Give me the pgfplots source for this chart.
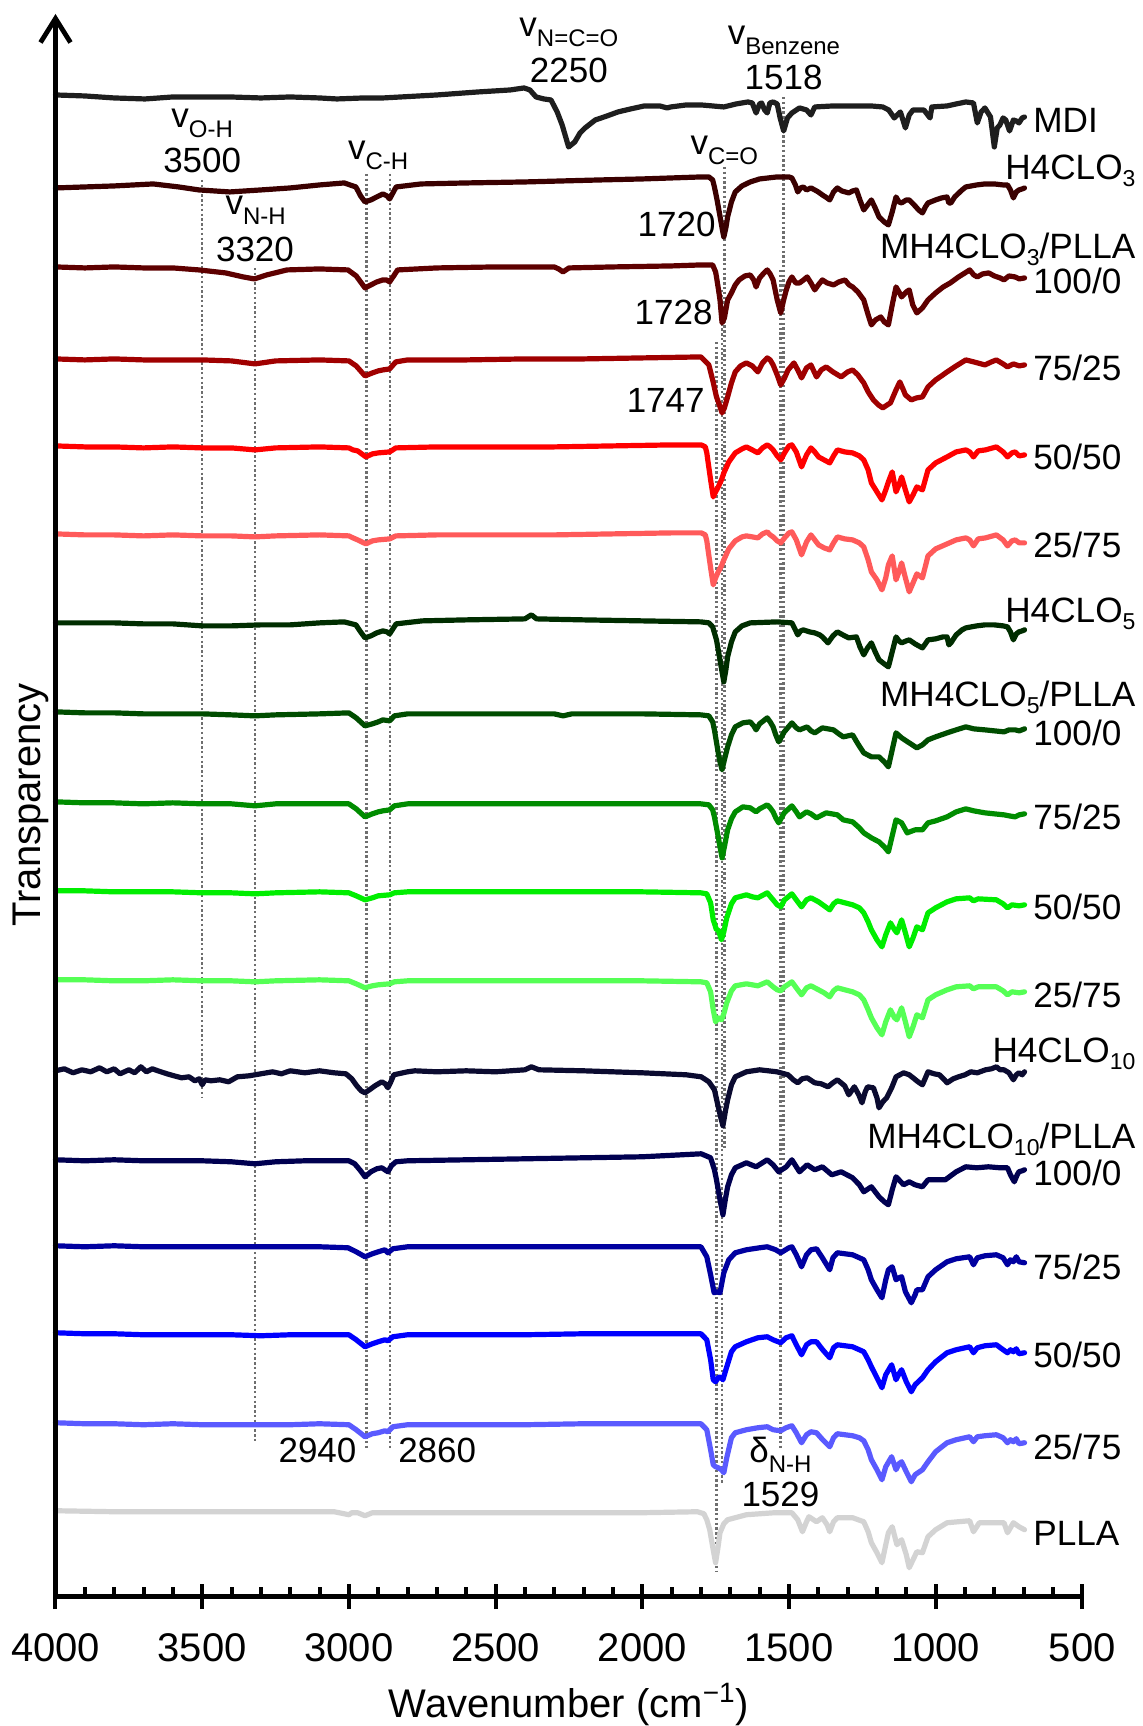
\documentclass[border=0pt]{standalone}
\usepackage{fontspec}
\setmainfont{Liberation Sans}
\usepackage{pgfplots}
\pgfplotsset{compat=1.18}
\usetikzlibrary{arrows.meta}
\definecolor{cMDI}{HTML}{1E1E1E}
\definecolor{cHa}{HTML}{3A0000}
\definecolor{cHaA}{HTML}{5E0000}
\definecolor{cHaB}{HTML}{A00000}
\definecolor{cHaC}{HTML}{FF0000}
\definecolor{cHaD}{HTML}{FF5A5A}
\definecolor{cHb}{HTML}{002D00}
\definecolor{cHbA}{HTML}{004D00}
\definecolor{cHbB}{HTML}{008C00}
\definecolor{cHbC}{HTML}{00EE00}
\definecolor{cHbD}{HTML}{55FF55}
\definecolor{cHc}{HTML}{0B0B30}
\definecolor{cHcA}{HTML}{000050}
\definecolor{cHcB}{HTML}{0000A0}
\definecolor{cHcC}{HTML}{0000FF}
\definecolor{cHcD}{HTML}{5A5AFF}
\definecolor{cPLLA}{HTML}{D3D3D3}
\definecolor{guidegray}{RGB}{110,110,110}
\newcommand{\lf}{\fontsize{17.6}{20}\selectfont}
\newcommand{\af}{\fontsize{17.5}{20}\selectfont}
\newcommand{\lsub}[1]{\raisebox{-3.5pt}{\fontsize{11.5}{12}\selectfont #1}}
\newcommand{\asub}[1]{\raisebox{-5pt}{\fontsize{12}{12}\selectfont #1}}
\begin{document}
\begin{tikzpicture}
\begin{axis}[
  scale only axis, width=513.5pt, height=790.25pt,
  x dir=reverse, xmin=500, xmax=4000, ymin=-1597, ymax=-16.5,
  axis x line=bottom, axis y line=none,
  x axis line style={-, line width=2.4pt},
  xtick={500,1000,1500,2000,2500,3000,3500,4000},
  minor x tick num=4,
  tick align=inside,
  major tick length=12.5pt, minor tick length=5pt,
  every tick/.style={black, line width=2pt},
  every major tick/.append style={yshift=-6.25pt},
  xticklabel style={font=\fontsize{20}{24}\selectfont, inner sep=0pt},
  xticklabel shift=18.4pt,
  /pgf/number format/1000 sep={},
  /pgf/number format/assume math mode=true,
  clip=false,
  spec/.style={line width=2.6pt, line join=round, line cap=round, mark=none},
  guide/.style={guidegray, line width=1.2pt, dash pattern=on 1.2pt off 1.2pt, mark=none},
]
\path (axis cs:4189.2,0) rectangle (axis cs:293.5,-1726);
% guide lines
\addplot[guide] coordinates {(3500,-180) (3500,-1097)};
\addplot[guide] coordinates {(3320,-268) (3320,-1443)};
\addplot[guide] coordinates {(2940,-174) (2940,-1450)};
\addplot[guide] coordinates {(2860,-174) (2860,-1450)};
\addplot[guide] coordinates {(1720,-167) (1720,-1150)};
\addplot[guide] coordinates {(1728,-290) (1728,-1485)};
\addplot[guide] coordinates {(1747,-342) (1747,-1572)};
\addplot[guide] coordinates {(1518,-97) (1518,-1160)};
\addplot[guide] coordinates {(1529,-270) (1529,-1450)};
% MDI
\addplot[spec, cMDI] coordinates {(4000,-95)(3900,-96)(3800,-98)(3695,-99)(3600,-97)(3500,-97)(3405,-97)(3300,-98)(3200,-97)(3100,-98)(3041,-99)(2950,-98)(2884,-98)(2700,-95)(2560,-92)(2450,-90)(2403,-88)(2383,-90)(2362,-97)(2335,-99)(2311,-100)(2290,-112)(2273,-125)(2251,-147)(2230,-142)(2212,-133)(2195,-128)(2160,-120)(2120,-116)(2083,-112)(2040,-109)(1993,-106)(1940,-106)(1915,-108)(1903,-107)(1850,-105)(1799,-105)(1760,-106)(1722,-107)(1680,-104)(1640,-102)(1625,-103)(1612,-113)(1600,-104)(1593,-103)(1583,-110)(1574,-113)(1565,-103)(1554,-102)(1540,-104)(1530,-118)(1518,-131)(1505,-118)(1490,-113)(1464,-108)(1440,-110)(1425,-115)(1412,-107)(1350,-106)(1283,-106)(1220,-106)(1180,-107)(1160,-110)(1141,-118)(1120,-112)(1103,-128)(1090,-115)(1077,-110)(1040,-110)(1019,-118)(1013,-107)(961,-106)(930,-104)(897,-102)(871,-103)(858,-123)(845,-112)(832,-108)(813,-117)(800,-147)(790,-128)(781,-125)(770,-118)(761,-120)(748,-131)(735,-120)(725,-121)(716,-123)(705,-118)(697,-117)};
% H4CLO3
\addplot[spec, cHa] coordinates {(4000,-188)(3900,-187)(3800,-186)(3667,-184)(3580,-187)(3511,-190)(3406,-192)(3300,-190)(3200,-188)(3100,-185)(3016,-183)(2976,-187)(2960,-196)(2945,-202)(2925,-200)(2905,-197)(2884,-194)(2870,-196)(2861,-199)(2850,-193)(2839,-187)(2754,-184)(2600,-183)(2400,-182)(2144,-180)(2000,-179)(1800,-177)(1773,-177)(1760,-180)(1754,-187)(1745,-200)(1737,-213)(1728,-228)(1722,-237)(1715,-228)(1709,-217)(1696,-202)(1683,-192)(1660,-186)(1632,-182)(1600,-179)(1541,-177)(1500,-177)(1490,-178)(1478,-185)(1470,-192)(1460,-188)(1451,-187)(1440,-190)(1425,-188)(1412,-190)(1400,-192)(1386,-195)(1370,-198)(1361,-200)(1348,-192)(1335,-188)(1320,-191)(1296,-193)(1283,-191)(1270,-190)(1258,-200)(1245,-210)(1232,-205)(1219,-200)(1206,-208)(1193,-217)(1175,-222)(1161,-225)(1148,-212)(1135,-197)(1125,-202)(1116,-203)(1100,-200)(1090,-200)(1070,-206)(1058,-210)(1045,-213)(1035,-207)(1026,-203)(1000,-200)(980,-198)(961,-197)(955,-203)(948,-203)(935,-197)(910,-190)(897,-187)(860,-185)(832,-184)(800,-184)(770,-185)(755,-185)(745,-190)(735,-198)(725,-192)(716,-190)(705,-189)(697,-188)};
% MH4CLO3 100/0
\addplot[spec, cHaA] coordinates {(4000,-267)(3900,-268)(3800,-267)(3700,-268)(3600,-268)(3511,-270)(3420,-273)(3360,-277)(3322,-279)(3280,-275)(3211,-270)(3100,-269)(3003,-270)(2975,-276)(2945,-288)(2925,-285)(2905,-282)(2884,-280)(2872,-280)(2861,-282)(2845,-275)(2834,-270)(2700,-268)(2500,-267)(2300,-267)(2285,-269)(2270,-272)(2250,-268)(2100,-267)(1900,-266)(1800,-265)(1760,-265)(1750,-272)(1747,-277)(1740,-290)(1735,-300)(1728,-323)(1720,-318)(1709,-300)(1696,-293)(1683,-285)(1670,-280)(1650,-276)(1632,-275)(1620,-280)(1612,-287)(1600,-278)(1585,-273)(1574,-270)(1564,-274)(1554,-280)(1540,-300)(1528,-313)(1518,-300)(1509,-290)(1500,-282)(1490,-277)(1477,-283)(1464,-283)(1450,-280)(1438,-277)(1425,-283)(1412,-290)(1400,-285)(1386,-280)(1370,-283)(1348,-285)(1330,-282)(1309,-280)(1295,-285)(1283,-287)(1265,-292)(1245,-300)(1230,-315)(1219,-325)(1205,-320)(1187,-317)(1175,-322)(1161,-325)(1148,-305)(1135,-287)(1125,-292)(1116,-297)(1100,-292)(1090,-290)(1078,-305)(1064,-313)(1045,-308)(1026,-300)(1000,-293)(974,-287)(950,-283)(922,-277)(900,-273)(884,-270)(870,-275)(858,-277)(840,-274)(819,-273)(800,-276)(780,-278)(767,-280)(750,-276)(729,-277)(715,-279)(697,-278)};
% MH4CLO3 75/25
\addplot[spec, cHaB] coordinates {(4000,-359)(3900,-360)(3800,-359)(3700,-360)(3600,-360)(3500,-360)(3400,-361)(3320,-364)(3250,-361)(3100,-360)(3000,-361)(2975,-366)(2945,-376)(2920,-373)(2900,-371)(2884,-370)(2861,-369)(2840,-362)(2800,-360)(2600,-360)(2400,-359)(2200,-359)(2000,-358)(1800,-357)(1773,-365)(1760,-380)(1747,-397)(1737,-405)(1728,-413)(1720,-408)(1709,-397)(1696,-383)(1683,-372)(1665,-366)(1645,-363)(1625,-366)(1606,-372)(1590,-363)(1574,-358)(1564,-360)(1554,-365)(1540,-375)(1528,-385)(1515,-378)(1503,-370)(1483,-363)(1470,-370)(1457,-378)(1440,-368)(1425,-365)(1406,-377)(1390,-370)(1373,-367)(1350,-372)(1322,-377)(1300,-372)(1283,-370)(1265,-375)(1245,-383)(1230,-392)(1212,-400)(1195,-405)(1180,-408)(1165,-405)(1154,-403)(1135,-390)(1122,-382)(1110,-390)(1103,-395)(1083,-400)(1065,-398)(1045,-397)(1026,-387)(1000,-380)(980,-376)(961,-372)(930,-366)(897,-360)(870,-362)(832,-365)(810,-362)(793,-360)(770,-364)(755,-367)(735,-364)(715,-366)(697,-365)};
% MH4CLO3 50/50
\addplot[spec, cHaC] coordinates {(4000,-446)(3900,-447)(3800,-447)(3700,-448)(3600,-447)(3500,-448)(3400,-448)(3320,-450)(3250,-448)(3100,-447)(3000,-448)(2986,-450)(2970,-451)(2942,-457)(2920,-454)(2900,-453)(2861,-452)(2840,-448)(2700,-447)(2500,-447)(2300,-447)(2100,-446)(1900,-445)(1799,-445)(1785,-447)(1780,-453)(1767,-480)(1758,-497)(1750,-492)(1741,-487)(1730,-480)(1722,-473)(1705,-462)(1683,-453)(1660,-449)(1645,-447)(1625,-450)(1606,-453)(1590,-448)(1574,-445)(1564,-447)(1554,-450)(1540,-456)(1528,-460)(1515,-453)(1500,-446)(1490,-445)(1475,-452)(1457,-467)(1440,-455)(1425,-448)(1412,-452)(1399,-457)(1380,-460)(1361,-463)(1348,-456)(1335,-450)(1310,-452)(1283,-453)(1260,-456)(1245,-460)(1230,-470)(1219,-483)(1200,-492)(1183,-500)(1170,-490)(1161,-482)(1148,-472)(1135,-492)(1125,-485)(1116,-477)(1103,-490)(1090,-502)(1077,-495)(1064,-487)(1045,-490)(1026,-470)(1000,-463)(961,-457)(930,-452)(897,-450)(884,-452)(871,-457)(855,-451)(830,-450)(793,-447)(770,-452)(755,-457)(740,-453)(729,-452)(715,-456)(697,-455)};
% MH4CLO3 25/75
\addplot[spec, cHaD] coordinates {(4000,-534)(3900,-535)(3800,-535)(3700,-536)(3600,-535)(3500,-536)(3400,-536)(3320,-537)(3250,-536)(3100,-535)(3000,-536)(2986,-538)(2970,-540)(2942,-544)(2920,-541)(2900,-540)(2861,-539)(2840,-536)(2700,-535)(2500,-535)(2300,-535)(2100,-534)(1900,-533)(1799,-533)(1785,-535)(1780,-541)(1767,-568)(1758,-585)(1750,-578)(1741,-572)(1730,-566)(1722,-560)(1705,-549)(1683,-541)(1660,-537)(1645,-536)(1625,-537)(1606,-538)(1590,-534)(1574,-532)(1564,-535)(1554,-537)(1540,-541)(1528,-543)(1515,-538)(1500,-533)(1490,-532)(1475,-540)(1457,-555)(1440,-542)(1425,-535)(1412,-540)(1399,-545)(1380,-548)(1361,-550)(1348,-543)(1335,-537)(1310,-539)(1283,-540)(1260,-543)(1245,-547)(1230,-560)(1219,-572)(1200,-580)(1183,-590)(1170,-578)(1161,-565)(1148,-556)(1135,-580)(1125,-572)(1116,-563)(1103,-578)(1090,-592)(1077,-583)(1064,-574)(1045,-578)(1026,-556)(1000,-549)(961,-544)(930,-540)(897,-538)(884,-540)(871,-546)(855,-539)(830,-538)(793,-535)(770,-540)(755,-546)(740,-541)(729,-540)(715,-543)(697,-543)};
% H4CLO5
\addplot[spec, cHb] coordinates {(4000,-623)(3900,-623)(3800,-623)(3700,-624)(3600,-624)(3500,-626)(3400,-626)(3300,-625)(3200,-625)(3100,-623)(3016,-622)(2976,-625)(2960,-632)(2945,-638)(2925,-636)(2905,-633)(2884,-631)(2870,-632)(2861,-634)(2850,-629)(2839,-624)(2750,-621)(2600,-620)(2400,-619)(2378,-615)(2360,-619)(2200,-620)(2000,-621)(1800,-622)(1773,-623)(1760,-627)(1747,-640)(1735,-660)(1728,-672)(1722,-682)(1715,-670)(1709,-657)(1696,-642)(1683,-632)(1660,-626)(1632,-623)(1540,-622)(1490,-623)(1478,-630)(1470,-635)(1460,-631)(1451,-630)(1430,-632)(1412,-633)(1395,-635)(1386,-637)(1367,-643)(1350,-636)(1335,-632)(1310,-636)(1296,-638)(1270,-637)(1258,-647)(1245,-655)(1232,-648)(1219,-643)(1206,-652)(1193,-660)(1175,-664)(1161,-667)(1148,-652)(1135,-637)(1125,-641)(1116,-643)(1100,-641)(1090,-640)(1070,-644)(1058,-646)(1045,-648)(1035,-644)(1026,-640)(1000,-639)(975,-637)(961,-637)(955,-645)(948,-643)(930,-635)(910,-630)(897,-628)(860,-626)(832,-625)(800,-625)(770,-626)(755,-627)(745,-632)(735,-640)(725,-634)(716,-632)(705,-631)(697,-630)};
% MH4CLO5 100/0
\addplot[spec, cHbA] coordinates {(4000,-712)(3900,-713)(3800,-713)(3700,-714)(3600,-714)(3500,-714)(3400,-715)(3320,-716)(3250,-715)(3100,-714)(3000,-713)(2975,-718)(2945,-726)(2920,-724)(2900,-722)(2884,-720)(2861,-721)(2845,-716)(2800,-714)(2600,-714)(2300,-714)(2270,-716)(2240,-714)(2000,-714)(1800,-715)(1773,-716)(1760,-722)(1754,-730)(1741,-753)(1735,-762)(1728,-770)(1720,-760)(1709,-747)(1696,-735)(1683,-727)(1657,-723)(1632,-722)(1620,-726)(1612,-730)(1600,-724)(1574,-718)(1564,-722)(1554,-727)(1545,-735)(1535,-742)(1516,-732)(1490,-723)(1475,-728)(1464,-730)(1438,-727)(1425,-731)(1412,-733)(1386,-728)(1348,-730)(1330,-734)(1315,-737)(1283,-735)(1265,-744)(1245,-753)(1219,-757)(1193,-757)(1175,-762)(1161,-767)(1148,-750)(1135,-733)(1116,-738)(1090,-743)(1064,-748)(1045,-745)(1026,-740)(1000,-737)(961,-733)(930,-730)(897,-727)(870,-729)(832,-730)(800,-731)(767,-732)(750,-730)(729,-730)(715,-731)(697,-729)};
% MH4CLO5 75/25
\addplot[spec, cHbB] coordinates {(4000,-802)(3900,-803)(3800,-803)(3700,-804)(3600,-803)(3500,-804)(3400,-804)(3320,-806)(3250,-804)(3100,-804)(3000,-804)(2975,-809)(2945,-817)(2920,-814)(2900,-812)(2884,-811)(2861,-810)(2845,-806)(2800,-804)(2600,-804)(2300,-804)(2000,-804)(1800,-804)(1773,-805)(1760,-810)(1754,-817)(1741,-837)(1735,-847)(1728,-858)(1720,-847)(1709,-830)(1696,-819)(1683,-812)(1657,-807)(1632,-808)(1612,-812)(1600,-809)(1574,-805)(1564,-808)(1554,-812)(1545,-818)(1535,-823)(1516,-813)(1490,-806)(1475,-812)(1464,-817)(1440,-812)(1425,-814)(1406,-818)(1373,-813)(1335,-815)(1315,-820)(1283,-822)(1260,-828)(1245,-833)(1219,-838)(1193,-842)(1175,-847)(1161,-852)(1148,-836)(1135,-820)(1116,-823)(1097,-833)(1070,-830)(1045,-830)(1026,-823)(1000,-821)(961,-817)(930,-812)(897,-809)(870,-811)(832,-813)(800,-814)(767,-815)(750,-816)(729,-817)(715,-815)(697,-814)};
% MH4CLO5 50/50
\addplot[spec, cHbC] coordinates {(4000,-891)(3900,-891)(3800,-892)(3700,-892)(3600,-892)(3500,-893)(3400,-893)(3320,-894)(3250,-893)(3100,-892)(3000,-893)(2975,-896)(2945,-900)(2920,-898)(2900,-896)(2861,-895)(2845,-893)(2800,-892)(2600,-892)(2300,-892)(2000,-892)(1800,-893)(1780,-894)(1767,-903)(1758,-920)(1747,-930)(1741,-930)(1730,-940)(1722,-932)(1712,-918)(1696,-904)(1683,-898)(1645,-895)(1625,-897)(1606,-898)(1574,-893)(1554,-900)(1540,-905)(1528,-907)(1515,-900)(1490,-894)(1475,-900)(1457,-907)(1440,-900)(1425,-898)(1399,-902)(1380,-906)(1361,-910)(1348,-904)(1335,-901)(1283,-905)(1260,-908)(1245,-913)(1230,-922)(1219,-930)(1200,-940)(1183,-947)(1170,-935)(1154,-923)(1140,-930)(1132,-933)(1116,-920)(1103,-933)(1090,-947)(1077,-938)(1064,-927)(1045,-930)(1026,-913)(1000,-908)(961,-902)(930,-899)(884,-898)(871,-901)(855,-899)(793,-900)(770,-904)(755,-908)(740,-905)(715,-906)(697,-905)};
% MH4CLO5 25/75
\addplot[spec, cHbD] coordinates {(4000,-980)(3900,-980)(3800,-981)(3700,-981)(3600,-980)(3500,-981)(3400,-981)(3320,-982)(3250,-981)(3100,-980)(3000,-981)(2975,-984)(2945,-988)(2920,-986)(2900,-985)(2861,-984)(2845,-982)(2800,-981)(2600,-981)(2300,-981)(2000,-981)(1800,-982)(1780,-983)(1767,-992)(1758,-1010)(1750,-1022)(1741,-1018)(1730,-1020)(1722,-1014)(1712,-1003)(1696,-991)(1683,-986)(1645,-984)(1625,-985)(1606,-986)(1574,-982)(1554,-987)(1540,-990)(1528,-991)(1515,-987)(1490,-982)(1475,-988)(1457,-995)(1440,-988)(1425,-986)(1399,-990)(1380,-993)(1361,-997)(1348,-991)(1335,-988)(1283,-992)(1260,-995)(1245,-1000)(1230,-1010)(1219,-1018)(1200,-1028)(1183,-1035)(1170,-1022)(1154,-1010)(1140,-1018)(1132,-1020)(1116,-1008)(1103,-1022)(1090,-1037)(1077,-1027)(1064,-1015)(1045,-1018)(1026,-1000)(1000,-995)(961,-990)(930,-987)(884,-986)(871,-989)(855,-987)(793,-987)(770,-991)(755,-995)(740,-992)(715,-993)(697,-992)};
% H4CLO10
\addplot[spec, cHc] coordinates {(4000,-1071)(3970,-1069)(3940,-1073)(3910,-1070)(3880,-1072)(3850,-1068)(3825,-1072)(3800,-1069)(3780,-1074)(3750,-1070)(3730,-1073)(3709,-1067)(3690,-1072)(3670,-1069)(3651,-1071)(3620,-1074)(3596,-1076)(3570,-1078)(3545,-1077)(3525,-1081)(3510,-1079)(3500,-1085)(3490,-1080)(3470,-1081)(3440,-1080)(3410,-1082)(3380,-1077)(3340,-1076)(3300,-1074)(3260,-1072)(3230,-1074)(3200,-1071)(3150,-1073)(3100,-1071)(3050,-1073)(3010,-1074)(2990,-1079)(2973,-1086)(2958,-1091)(2945,-1093)(2925,-1089)(2911,-1086)(2888,-1082)(2876,-1084)(2867,-1088)(2857,-1082)(2847,-1075)(2800,-1072)(2775,-1071)(2700,-1072)(2600,-1071)(2500,-1072)(2400,-1070)(2378,-1067)(2352,-1070)(2200,-1071)(2000,-1073)(1850,-1075)(1799,-1077)(1773,-1082)(1754,-1090)(1741,-1107)(1733,-1117)(1725,-1126)(1717,-1112)(1709,-1100)(1696,-1085)(1683,-1077)(1645,-1072)(1600,-1070)(1541,-1072)(1503,-1075)(1485,-1080)(1470,-1083)(1455,-1079)(1438,-1078)(1412,-1083)(1390,-1084)(1367,-1087)(1350,-1083)(1335,-1080)(1310,-1086)(1296,-1095)(1277,-1087)(1262,-1095)(1251,-1103)(1240,-1092)(1232,-1087)(1212,-1088)(1200,-1098)(1193,-1108)(1180,-1102)(1167,-1098)(1150,-1088)(1135,-1077)(1109,-1073)(1090,-1075)(1077,-1078)(1060,-1082)(1045,-1085)(1026,-1072)(1005,-1074)(987,-1075)(970,-1080)(961,-1083)(940,-1079)(922,-1077)(900,-1075)(880,-1072)(858,-1073)(830,-1070)(810,-1069)(793,-1067)(780,-1070)(767,-1070)(750,-1073)(735,-1080)(725,-1075)(716,-1073)(705,-1075)(697,-1072)};
% MH4CLO10 100/0
\addplot[spec, cHcA] coordinates {(4000,-1160)(3900,-1161)(3800,-1160)(3700,-1161)(3600,-1161)(3500,-1161)(3400,-1162)(3320,-1164)(3250,-1162)(3150,-1161)(3050,-1161)(3000,-1161)(2980,-1164)(2960,-1171)(2945,-1177)(2925,-1172)(2905,-1169)(2888,-1168)(2867,-1172)(2855,-1166)(2840,-1162)(2800,-1161)(2600,-1160)(2400,-1159)(2200,-1158)(2000,-1157)(1799,-1154)(1767,-1158)(1754,-1170)(1747,-1180)(1735,-1200)(1725,-1215)(1717,-1200)(1709,-1187)(1696,-1175)(1683,-1168)(1645,-1163)(1612,-1167)(1574,-1160)(1554,-1165)(1535,-1172)(1509,-1167)(1490,-1160)(1464,-1172)(1438,-1165)(1412,-1170)(1386,-1167)(1354,-1175)(1322,-1172)(1283,-1178)(1260,-1185)(1245,-1192)(1219,-1187)(1193,-1197)(1175,-1202)(1161,-1205)(1148,-1190)(1135,-1177)(1109,-1185)(1090,-1182)(1070,-1185)(1045,-1187)(1026,-1180)(967,-1180)(930,-1172)(897,-1167)(860,-1168)(820,-1167)(780,-1168)(755,-1168)(745,-1175)(732,-1182)(722,-1175)(716,-1172)(705,-1171)(697,-1170)};
% MH4CLO10 75/25
\addplot[spec, cHcB] coordinates {(4000,-1246)(3900,-1247)(3800,-1246)(3700,-1247)(3600,-1247)(3500,-1247)(3400,-1247)(3300,-1247)(3200,-1247)(3100,-1247)(3003,-1248)(2975,-1252)(2945,-1257)(2920,-1254)(2900,-1252)(2877,-1250)(2867,-1253)(2850,-1249)(2800,-1247)(2600,-1247)(2400,-1247)(2200,-1247)(2000,-1247)(1800,-1247)(1780,-1257)(1767,-1275)(1755,-1293)(1745,-1292)(1735,-1293)(1722,-1273)(1705,-1260)(1683,-1253)(1645,-1250)(1600,-1248)(1574,-1247)(1545,-1250)(1528,-1253)(1500,-1248)(1490,-1247)(1475,-1255)(1457,-1267)(1440,-1255)(1425,-1250)(1406,-1249)(1386,-1258)(1361,-1270)(1350,-1258)(1335,-1253)(1283,-1255)(1260,-1258)(1245,-1260)(1230,-1270)(1219,-1280)(1200,-1290)(1183,-1298)(1170,-1280)(1161,-1270)(1148,-1267)(1135,-1280)(1125,-1278)(1116,-1277)(1103,-1292)(1083,-1303)(1070,-1295)(1064,-1290)(1045,-1290)(1026,-1277)(1000,-1270)(961,-1262)(930,-1259)(884,-1257)(871,-1265)(858,-1258)(832,-1256)(793,-1255)(770,-1258)(755,-1265)(745,-1260)(735,-1262)(725,-1257)(716,-1262)(697,-1263)};
% MH4CLO10 50/50
\addplot[spec, cHcC] coordinates {(4000,-1333)(3900,-1334)(3800,-1334)(3700,-1335)(3600,-1335)(3500,-1335)(3400,-1335)(3300,-1336)(3200,-1335)(3100,-1335)(3000,-1335)(2975,-1340)(2945,-1347)(2920,-1344)(2900,-1342)(2877,-1340)(2867,-1341)(2850,-1337)(2800,-1335)(2600,-1335)(2400,-1335)(2200,-1334)(2000,-1334)(1800,-1334)(1780,-1340)(1767,-1360)(1758,-1380)(1750,-1382)(1741,-1378)(1735,-1377)(1725,-1380)(1715,-1370)(1696,-1352)(1683,-1347)(1645,-1342)(1606,-1338)(1574,-1337)(1554,-1340)(1528,-1343)(1510,-1338)(1490,-1336)(1475,-1345)(1457,-1355)(1440,-1345)(1425,-1342)(1406,-1342)(1385,-1350)(1361,-1358)(1348,-1348)(1335,-1345)(1283,-1347)(1260,-1350)(1245,-1352)(1230,-1360)(1219,-1367)(1200,-1378)(1183,-1388)(1170,-1375)(1150,-1365)(1135,-1380)(1125,-1374)(1116,-1370)(1100,-1382)(1083,-1392)(1070,-1385)(1045,-1378)(1026,-1370)(1000,-1362)(961,-1353)(930,-1350)(884,-1347)(871,-1353)(858,-1348)(832,-1346)(793,-1345)(770,-1350)(755,-1353)(745,-1350)(735,-1352)(725,-1349)(716,-1354)(697,-1353)};
% MH4CLO10 25/75
\addplot[spec, cHcD] coordinates {(4000,-1423)(3900,-1424)(3800,-1424)(3700,-1425)(3600,-1424)(3500,-1425)(3400,-1425)(3300,-1425)(3200,-1425)(3100,-1424)(3000,-1425)(2975,-1430)(2945,-1437)(2920,-1434)(2900,-1433)(2877,-1431)(2867,-1432)(2850,-1427)(2800,-1425)(2600,-1425)(2400,-1425)(2200,-1424)(2000,-1424)(1800,-1424)(1780,-1430)(1767,-1450)(1758,-1465)(1750,-1467)(1741,-1468)(1730,-1470)(1722,-1473)(1712,-1458)(1696,-1438)(1683,-1433)(1645,-1430)(1606,-1428)(1574,-1427)(1554,-1430)(1528,-1431)(1510,-1428)(1490,-1426)(1475,-1433)(1457,-1443)(1440,-1435)(1425,-1432)(1406,-1433)(1385,-1440)(1361,-1447)(1348,-1438)(1335,-1434)(1283,-1436)(1260,-1438)(1245,-1441)(1230,-1450)(1219,-1460)(1200,-1470)(1183,-1480)(1170,-1467)(1150,-1457)(1135,-1470)(1125,-1464)(1116,-1462)(1100,-1472)(1083,-1482)(1070,-1475)(1045,-1470)(1026,-1462)(1000,-1452)(961,-1443)(930,-1440)(884,-1437)(871,-1442)(858,-1437)(832,-1436)(793,-1435)(770,-1438)(755,-1443)(745,-1440)(735,-1442)(725,-1439)(716,-1444)(697,-1443)};
% PLLA
\addplot[spec, cPLLA] coordinates {(4000,-1511)(3800,-1512)(3600,-1512)(3400,-1512)(3200,-1512)(3050,-1512)(3000,-1515)(2990,-1513)(2970,-1513)(2945,-1516)(2920,-1513)(2880,-1513)(2800,-1513)(2600,-1513)(2400,-1513)(2200,-1513)(2000,-1513)(1812,-1512)(1790,-1514)(1780,-1520)(1770,-1530)(1760,-1547)(1750,-1563)(1742,-1548)(1735,-1533)(1722,-1524)(1709,-1520)(1645,-1515)(1550,-1513)(1490,-1513)(1470,-1520)(1454,-1532)(1440,-1522)(1432,-1517)(1406,-1522)(1386,-1518)(1370,-1525)(1361,-1532)(1348,-1522)(1335,-1518)(1283,-1518)(1245,-1522)(1230,-1532)(1219,-1543)(1200,-1553)(1183,-1563)(1170,-1545)(1161,-1533)(1148,-1527)(1132,-1545)(1116,-1540)(1100,-1555)(1090,-1568)(1077,-1560)(1064,-1552)(1045,-1553)(1026,-1537)(1000,-1530)(961,-1523)(884,-1521)(871,-1532)(851,-1523)(767,-1523)(755,-1533)(735,-1523)(716,-1527)(697,-1530)};
% y axis line with arrow
\draw[line width=2.4pt, -{Straight Barb[length=12pt, width=15pt]}] (axis cs:4000,-1597) -- (axis cs:4000,-14);
% axis labels
\node[rotate=90, anchor=center, inner sep=0pt, font=\fontsize{20}{24}\selectfont] at (axis description cs:-0.024,0.5011) {Transparency};
\node[anchor=center, inner sep=0pt, yshift=-54pt, font=\fontsize{20}{24}\selectfont] at (axis description cs:0.5,0) {Wavenumber (cm\textsuperscript{−1})};
% right labels
\node[anchor=base west, inner sep=0pt, font=\lf] at (axis cs:668.4,-132.4) {MDI};
\node[anchor=base east, inner sep=0pt, font=\lf] at (axis cs:317.6,-179.4) {H4CLO\lsub{3}};
\node[anchor=base east, inner sep=0pt, font=\lf] at (axis cs:317.6,-258.4) {MH4CLO\lsub{3}/PLLA};
\node[anchor=base west, inner sep=0pt, font=\lf] at (axis cs:668.4,-293.4) {100/0};
\node[anchor=base west, inner sep=0pt, font=\lf] at (axis cs:668.4,-380.4) {75/25};
\node[anchor=base west, inner sep=0pt, font=\lf] at (axis cs:668.4,-469.4) {50/50};
\node[anchor=base west, inner sep=0pt, font=\lf] at (axis cs:668.4,-557.4) {25/75};
\node[anchor=base east, inner sep=0pt, font=\lf] at (axis cs:317.6,-622.4) {H4CLO\lsub{5}};
\node[anchor=base east, inner sep=0pt, font=\lf] at (axis cs:317.6,-706.4) {MH4CLO\lsub{5}/PLLA};
\node[anchor=base west, inner sep=0pt, font=\lf] at (axis cs:668.4,-745.4) {100/0};
\node[anchor=base west, inner sep=0pt, font=\lf] at (axis cs:668.4,-829.4) {75/25};
\node[anchor=base west, inner sep=0pt, font=\lf] at (axis cs:668.4,-919.4) {50/50};
\node[anchor=base west, inner sep=0pt, font=\lf] at (axis cs:668.4,-1007.4) {25/75};
\node[anchor=base east, inner sep=0pt, font=\lf] at (axis cs:317.6,-1062.4) {H4CLO\lsub{10}};
\node[anchor=base east, inner sep=0pt, font=\lf] at (axis cs:317.6,-1148.4) {MH4CLO\lsub{10}/PLLA};
\node[anchor=base west, inner sep=0pt, font=\lf] at (axis cs:668.4,-1185.4) {100/0};
\node[anchor=base west, inner sep=0pt, font=\lf] at (axis cs:668.4,-1279.4) {75/25};
\node[anchor=base west, inner sep=0pt, font=\lf] at (axis cs:668.4,-1367.4) {50/50};
\node[anchor=base west, inner sep=0pt, font=\lf] at (axis cs:668.4,-1459.4) {25/75};
\node[anchor=base west, inner sep=0pt, font=\lf] at (axis cs:668.4,-1545.4) {PLLA};
% band annotations
\node[anchor=base, inner sep=0pt, font=\af] at (axis cs:2250,-37) {v\asub{N=C=O}};
\node[anchor=base, inner sep=0pt, font=\af] at (axis cs:2250,-83) {2250};
\node[anchor=base, inner sep=0pt, font=\af] at (axis cs:1517,-45) {v\asub{Benzene}};
\node[anchor=base, inner sep=0pt, font=\af] at (axis cs:1518,-90) {1518};
\node[anchor=base, inner sep=0pt, font=\af] at (axis cs:3500,-128) {v\asub{O-H}};
\node[anchor=base, inner sep=0pt, font=\af] at (axis cs:3500,-173) {3500};
\node[anchor=base, inner sep=0pt, font=\af] at (axis cs:2900,-160) {v\asub{C-H}};
\node[anchor=base, inner sep=0pt, font=\af] at (axis cs:3318,-215) {v\asub{N-H}};
\node[anchor=base, inner sep=0pt, font=\af] at (axis cs:3320,-262) {3320};
\node[anchor=base, inner sep=0pt, font=\af] at (axis cs:1720,-155) {v\asub{C=O}};
\node[anchor=base east, inner sep=0pt, font=\af] at (axis cs:1749,-237) {1720};
\node[anchor=base east, inner sep=0pt, font=\af] at (axis cs:1759,-325) {1728};
\node[anchor=base east, inner sep=0pt, font=\af] at (axis cs:1786,-413) {1747};
\node[anchor=base east, inner sep=0pt, font=\af] at (axis cs:2973,-1463) {2940};
\node[anchor=base west, inner sep=0pt, font=\af] at (axis cs:2833,-1463) {2860};
\node[anchor=base, inner sep=0pt, font=\af] at (axis cs:1529,-1463) {δ\asub{N-H}};
\node[anchor=base, inner sep=0pt, font=\af] at (axis cs:1529,-1507) {1529};
\end{axis}
\end{tikzpicture}
\end{document}
